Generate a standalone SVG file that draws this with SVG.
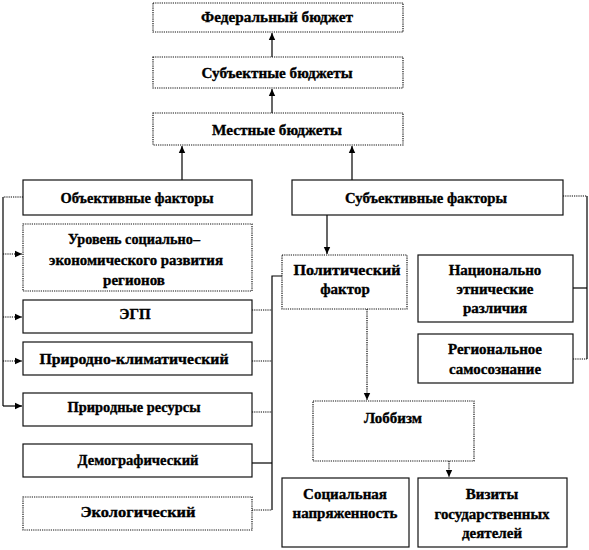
<svg xmlns="http://www.w3.org/2000/svg" width="589" height="550" viewBox="0 0 589 550">
<style>
.box{fill:#fff;stroke:#111;stroke-width:1.2}
.dot{stroke-dasharray:1.2 1}
.t{font-family:"Liberation Serif","Times New Roman",serif;font-weight:bold;font-size:15px;fill:#000;stroke:#000;stroke-width:0.35;text-anchor:middle}
.c{fill:none;stroke:#000;stroke-width:1.2}
.cd{fill:none;stroke:#000;stroke-width:1.2;stroke-dasharray:1.2 1}
</style>
<defs>
<marker id="ah" markerUnits="userSpaceOnUse" markerWidth="8" markerHeight="8" refX="7" refY="4" orient="auto">
<path d="M0,0.8 L7,4 L0,7.2 Z" fill="#000"/>
</marker>
</defs>
<rect width="589" height="550" fill="#fff"/>
<g id="connectors">
<path class="c" d="M272,57 V33" marker-end="url(#ah)"/>
<path class="c" d="M272,113 V89" marker-end="url(#ah)"/>
<path class="c" d="M182,180 V146" marker-end="url(#ah)"/>
<path class="c" d="M352,180 V146" marker-end="url(#ah)"/>
<path class="cd" d="M23,197 H3"/>
<path class="c" d="M3,197 V406"/>
<path class="cd" d="M3,254 H22" marker-end="url(#ah)"/>
<path class="cd" d="M3,317 H22" marker-end="url(#ah)"/>
<path class="cd" d="M3,361 H22" marker-end="url(#ah)"/>
<path class="c" d="M3,406 H22" marker-end="url(#ah)"/>
<path class="c" d="M282,276 H272 V510"/>
<path class="cd" d="M252,310 H272"/>
<path class="cd" d="M252,361 H272"/>
<path class="cd" d="M252,412 H272"/>
<path class="c" d="M252,463 H272"/>
<path class="cd" d="M252,510 H272"/>
<path class="c" d="M327,215 V254" marker-end="url(#ah)"/>
<path class="cd" d="M563,196 H587"/>
<path class="c" d="M587,196 V359"/>
<path class="c" d="M573,288 H587"/>
<path class="cd" d="M573,359 H587"/>
<path class="cd" d="M367,309 V400" marker-end="url(#ah)"/>
<path class="cd" d="M449,461 V477" marker-end="url(#ah)"/>
</g>
<g id="fed"><rect class="box dot" x="153" y="3" width="250" height="29"/><text class="t" x="277" y="22" textLength="152" lengthAdjust="spacingAndGlyphs">Федеральный бюджет</text></g>
<g id="subj_budget"><rect class="box dot" x="153" y="57" width="250" height="31"/><text class="t" x="277" y="78" textLength="151" lengthAdjust="spacingAndGlyphs">Субъектные бюджеты</text></g>
<g id="mestnye"><rect class="box dot" x="153" y="113" width="250" height="32"/><text class="t" x="277" y="135" textLength="130" lengthAdjust="spacingAndGlyphs">Местные бюджеты</text></g>
<g id="obj"><rect class="box" x="23" y="180" width="229" height="35"/><text class="t" x="137" y="203" textLength="153" lengthAdjust="spacingAndGlyphs">Объективные факторы</text></g>
<g id="uroven"><rect class="box dot" x="23" y="224" width="229" height="67"/>
<text class="t" x="134" y="244" textLength="132" lengthAdjust="spacingAndGlyphs">Уровень социально–</text>
<text class="t" x="136" y="265" textLength="174" lengthAdjust="spacingAndGlyphs">экономического развития</text>
<text class="t" x="134" y="285">регионов</text></g>
<g id="egp"><rect class="box" x="23" y="300" width="229" height="33"/><text class="t" x="135" y="319">ЭГП</text></g>
<g id="prirklim"><rect class="box" x="23" y="342" width="229" height="33"/><text class="t" x="134" y="364" textLength="189" lengthAdjust="spacingAndGlyphs">Природно-климатический</text></g>
<g id="prres"><rect class="box" x="23" y="393" width="229" height="33"/><text class="t" x="134" y="412" textLength="133" lengthAdjust="spacingAndGlyphs">Природные ресурсы</text></g>
<g id="demo"><rect class="box" x="23" y="444" width="229" height="33"/><text class="t" x="138" y="465" textLength="121" lengthAdjust="spacingAndGlyphs">Демографический</text></g>
<g id="eco"><rect class="box dot" x="23" y="497" width="229" height="33"/><text class="t" x="138" y="517" textLength="115" lengthAdjust="spacingAndGlyphs">Экологический</text></g>
<g id="subf"><rect class="box" x="292" y="180" width="271" height="35"/><text class="t" x="426" y="203" textLength="162" lengthAdjust="spacingAndGlyphs">Субъективные факторы</text></g>
<g id="polit"><rect class="box dot" x="282" y="255" width="125" height="54"/>
<text class="t" x="347" y="275" textLength="107" lengthAdjust="spacingAndGlyphs">Политический</text>
<text class="t" x="345" y="294">фактор</text></g>
<g id="nac"><rect class="box" x="418" y="255" width="155" height="67"/>
<text class="t" x="495" y="275">Национально</text>
<text class="t" x="495" y="294">этнические</text>
<text class="t" x="495" y="313">различия</text></g>
<g id="reg"><rect class="box" x="418" y="334" width="155" height="49"/>
<text class="t" x="495" y="354">Региональное</text>
<text class="t" x="495" y="374">самосознание</text></g>
<g id="lobby"><rect class="box dot" x="313" y="401" width="161" height="60"/><text class="t" x="393" y="423">Лоббизм</text></g>
<g id="soc"><rect class="box" x="282" y="478" width="127" height="69"/>
<text class="t" x="345" y="499">Социальная</text>
<text class="t" x="345" y="518" textLength="105" lengthAdjust="spacingAndGlyphs">напряженность</text></g>
<g id="viz"><rect class="box" x="418" y="478" width="149" height="69"/>
<text class="t" x="492" y="499">Визиты</text>
<text class="t" x="492" y="519" textLength="115" lengthAdjust="spacingAndGlyphs">государственных</text>
<text class="t" x="492" y="538">деятелей</text></g>
</svg>
